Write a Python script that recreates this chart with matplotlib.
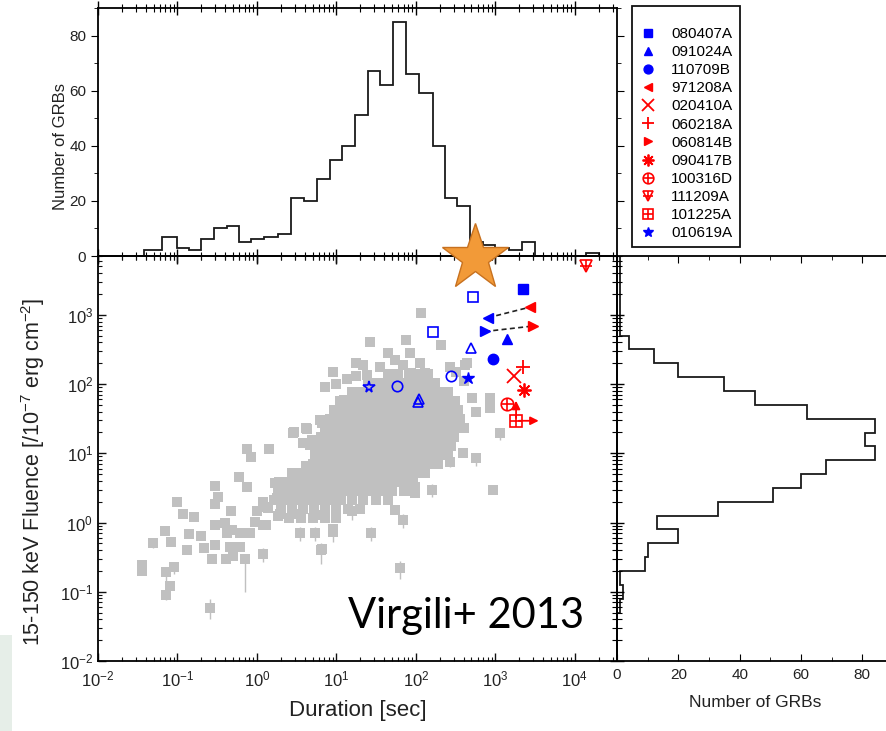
import matplotlib
matplotlib.use("Agg")
import matplotlib.pyplot as plt
from matplotlib.lines import Line2D
from matplotlib.patches import Rectangle
import numpy as np

plt.rcParams['font.family'] = ['Liberation Sans', 'DejaVu Sans']
plt.rcParams['mathtext.default'] = 'regular'
TXT = '#222222'
GRAY = '#c0c0c0'

# ---- duration histogram (top): log10 bin edges and counts
dur_edges = [-1.42, -1.20, -1.01, -0.86, -0.71, -0.54, -0.38, -0.23, -0.07, 0.09,
             0.27, 0.43, 0.59, 0.75, 0.92, 1.07, 1.23, 1.40, 1.55, 1.71,
             1.88, 2.04, 2.21, 2.37, 2.52, 2.68, 2.84, 3.00, 3.17, 3.33,
             3.50, 3.66, 3.82, 3.98, 4.14, 4.30]
dur_counts = [2, 7, 3, 2, 6, 10, 11, 5, 6, 7,
              8, 21, 20, 28, 35, 40, 51, 67, 62, 85,
              66, 59, 40, 21, 18, 5, 4, 3, 2, 5,
              0, 0, 0, 0, 1]

# ---- fluence histogram (right): log10 bin edges and counts
flu_edges = [-1.3, -1.1, -0.9, -0.7, -0.5, -0.3, -0.1, 0.1, 0.3, 0.5, 0.7, 0.9, 1.1,
             1.3, 1.5, 1.7, 1.9, 2.1, 2.3, 2.5, 2.7, 2.9, 3.1, 3.3, 3.5, 3.7, 3.9]
flu_counts = [1, 2, 1, 9, 10, 20, 13, 33, 51, 60, 68, 84, 81,
              84, 62, 45, 35, 20, 12, 4, 1, 1, 1, 1, 1, 1]

# ---- gray sample: scattered points (log10 T, log10 F)
sparse_logT = [-1.45, -1.45, -1.31, -1.16, -1.08, -1.15, -1.04, -1.10, -1.14, -1.00,
               -0.93, -0.79, -0.86, -0.88, -0.70, -0.67, -0.56, -0.59, -0.53, -0.49,
               -0.53, -0.53, -0.53, -0.40, -0.38, -0.33, -0.32, -0.34, -0.39, -0.30,
               -0.21, -0.21, -0.15, -0.22, -0.12, -0.13, -0.08, 0.15, -0.09, -0.03,
               0.00, 0.08, 0.14, 0.11, 0.08, 0.24, 0.25, 0.26, 0.45, 0.63,
               0.58, 0.69, 0.82, 0.92, 0.86, 0.96, 1.00, 0.73, 0.82, 0.96,
               0.08, 1.42, 1.88, 1.65, 1.74, 1.92, 2.05, 1.25, 1.34, 1.55,
               1.84, 1.94, 2.11, 1.13, 1.25, 1.38, 1.09, 1.25, 1.59, 1.78,
               2.09, 2.15, 0.79, 0.46, 0.62, 0.67, 0.86, 0.92, 0.62, 0.77,
               0.88, 1.13, 1.09, 2.06, 2.32, 2.62, 2.64, 2.43, 2.51, 2.60,
               2.76, 2.93, 2.93, 2.70, 2.60, 2.76, 3.06, 2.97, 2.20, 2.59,
               2.43, 1.99, 0.08, 0.23, 0.42, 0.10, 0.54, 0.83, 1.19, 1.44,
               1.80, 1.74, 1.84, 1.99, 0.46, 0.58, 0.46, 0.29, 1.97, 0.81]
sparse_logF = [-0.62, -0.70, -0.30, -0.12, -0.28, -0.72, -0.64, -0.91, -1.04, 0.30,
               0.13, 0.08, -0.16, -0.40, -0.20, -0.37, -0.53, -1.23, 0.53, 0.37,
               0.27, -0.03, -0.32, -0.01, -0.15, 0.16, -0.11, -0.35, -0.52, -0.49,
               -0.15, -0.35, -0.53, 0.66, 0.52, 1.06, 0.94, 1.06, -0.15, 0.01,
               0.16, 0.25, 0.21, -0.03, -0.45, 0.57, 0.35, 0.09, 1.30, 1.35,
               1.15, 1.19, 1.44, 1.48, 1.96, 2.18, 2.00, -0.15, -0.38, -0.10,
               0.30, 2.61, 2.64, 2.45, 2.35, 2.45, 2.30, 2.30, 2.28, 2.25,
               2.28, 2.16, 2.16, 2.07, 2.11, 2.13, 1.77, 1.72, 1.89, 1.87,
               2.06, 1.96, 1.48, 1.31, 1.36, 1.12, 1.10, 0.90, 0.81, 0.74,
               1.48, 1.48, 1.58, 3.03, 2.57, 2.28, 2.30, 2.25, 2.18, 2.04,
               1.60, 1.80, 1.65, 1.80, 1.36, 0.93, 1.29, 0.47, 0.47, 1.00,
               0.88, 0.42, -0.03, 0.57, 0.57, 0.23, -0.15, 0.11, 0.16, -0.15,
               -0.66, 0.18, 0.04, 0.52, 0.42, 0.33, 0.13, 0.13, 0.45, -0.40]

# ---- gray sample: dense core, one list of log10 T per log10 F row
core_logF = [2.15, 2.02, 1.89, 1.76, 1.63, 1.50, 1.37, 1.24, 1.11, 0.98,
             0.85, 0.72, 0.59, 0.46, 0.33, 0.20, 0.07]
core_logT = [
    [1.65, 1.78, 1.91, 2.04, 2.15],
    [1.40, 1.52, 1.64, 1.76, 1.88, 2.00, 2.12, 2.24],
    [1.20, 1.32, 1.44, 1.56, 1.68, 1.80, 1.92, 2.04, 2.16, 2.28, 2.40],
    [1.05, 1.17, 1.29, 1.41, 1.53, 1.65, 1.77, 1.89, 2.01, 2.13, 2.25, 2.37, 2.49],
    [0.97, 1.09, 1.21, 1.33, 1.45, 1.57, 1.69, 1.81, 1.93, 2.05, 2.17, 2.29, 2.41, 2.53],
    [0.92, 1.04, 1.16, 1.28, 1.40, 1.52, 1.64, 1.76, 1.88, 2.00, 2.12, 2.24, 2.36, 2.48, 2.56],
    [0.85, 0.97, 1.09, 1.21, 1.33, 1.45, 1.57, 1.69, 1.81, 1.93, 2.05, 2.17, 2.29, 2.41, 2.53],
    [0.80, 0.92, 1.04, 1.16, 1.28, 1.40, 1.52, 1.64, 1.76, 1.88, 2.00, 2.12, 2.24, 2.36, 2.48],
    [0.76, 0.88, 1.00, 1.12, 1.24, 1.36, 1.48, 1.60, 1.72, 1.84, 1.96, 2.08, 2.20, 2.32, 2.44],
    [0.73, 0.85, 0.97, 1.09, 1.21, 1.33, 1.45, 1.57, 1.69, 1.81, 1.93, 2.05, 2.17, 2.29, 2.40],
    [0.71, 0.83, 0.95, 1.07, 1.19, 1.31, 1.43, 1.55, 1.67, 1.79, 1.91, 2.03, 2.15, 2.28],
    [0.44, 0.56, 0.68, 0.80, 0.92, 1.04, 1.16, 1.28, 1.40, 1.52, 1.64, 1.76, 1.88, 2.00, 2.12],
    [0.28, 0.40, 0.52, 0.64, 0.76, 0.88, 1.00, 1.12, 1.24, 1.36, 1.48, 1.60, 1.72, 1.84, 1.96],
    [0.26, 0.38, 0.50, 0.62, 0.74, 0.86, 0.98, 1.10, 1.22, 1.34, 1.46, 1.58, 1.70, 1.85],
    [0.22, 0.34, 0.46, 0.58, 0.70, 0.82, 0.94, 1.06, 1.20, 1.34, 1.50, 1.65],
    [0.30, 0.44, 0.58, 0.72, 0.86, 1.00, 1.14, 1.30],
    [0.40, 0.55, 0.70, 0.85, 1.00],
]

# ---- gray points with fluence error bars (log10 T, log10 F, lower dex, upper dex)
err_logT = [-1.45, -1.31, -1.15, -1.14, -1.10, -1.04, -0.59, -0.15, 0.08, -0.34,
            0.81, 0.73, 0.96, 1.44, 1.19, 1.80, 2.76, 3.06, 2.20, 2.43, 0.54, 1.84]
err_logF = [-0.66, -0.30, -0.72, -1.04, -0.91, -0.64, -1.23, -0.53, -0.45, -0.35,
            -0.40, -0.15, -0.13, -0.15, 0.16, -0.66, 0.93, 1.29, 0.47, 0.88, -0.15, 0.04]
err_lo = [0.10, 0.07, 0.12, 0.08, 0.07, 0.10, 0.16, 0.47, 0.12, 0.10,
          0.20, 0.12, 0.15, 0.12, 0.12, 0.15, 0.12, 0.10, 0.10, 0.08, 0.12, 0.12]
err_hi = [0.08, 0.06, 0.08, 0.06, 0.06, 0.07, 0.12, 0.05, 0.08, 0.07,
          0.10, 0.08, 0.10, 0.08, 0.08, 0.10, 0.08, 0.08, 0.08, 0.07, 0.08, 0.08]

# ---- special GRBs: name, T [s], F [1e-7 erg/cm2]
grb_names = ['080407A', '091024A', '110709B', '971208A', '020410A', '060218A',
             '060814B', '090417B', '100316D', '111209A', '101225A', '010619A']
grb_T = [2240, 1380, 930, 2700, 1700, 2240, 3000, 2290, 1380, 13800, 1820, 450]
grb_F = [2340, 450, 230, 1290, 129, 174, 690, 81, 51, 5000, 29.5, 123]
# open blue symbols (alternative measurements)
open_kind = ['s', 's', '^', '^', '^', 'o', 'o', '*']
open_T = [525, 166, 500, 110, 105, 275, 57, 25.7]
open_F = [1820, 560, 330, 60, 55, 132, 93, 91]
# blue ends of dashed links (971208A, 060814B)
link_blue_T = [810, 740]
link_blue_F = [910, 575]
link_red_T = [2700, 3000]
link_red_F = [1290, 690]

fig = plt.figure(figsize=(8.86, 7.31), dpi=100)
W, H = 886, 731
ax = fig.add_axes([98 / W, 1 - 661 / H, 519 / W, 405 / H])
axt = fig.add_axes([98 / W, 1 - 256 / H, 519 / W, 248 / H], sharex=ax)
axr = fig.add_axes([617 / W, 1 - 661 / H, 276 / W, 405 / H], sharey=ax)
ax.set_zorder(3)
ax.patch.set_alpha(0)

gms = 6.8
# gray sample
for lf, row in zip(core_logF, core_logT):
    ax.plot(10 ** np.array(row), np.full(len(row), 10 ** lf), 's', color=GRAY,
            ms=gms, mew=0, zorder=2)
ax.plot(10 ** np.array(sparse_logT), 10 ** np.array(sparse_logF), 's', color=GRAY,
        ms=gms, mew=0, zorder=2)
eT = 10 ** np.array(err_logT)
eF = 10 ** np.array(err_logF)
ax.errorbar(eT, eF, yerr=[eF - eF / 10 ** np.array(err_lo), eF * 10 ** np.array(err_hi) - eF],
            fmt='s', color=GRAY, ms=gms, mew=0, elinewidth=1.0, capsize=3.5, zorder=2)

# dashed links
for bt, bf, rt, rf in zip(link_blue_T, link_blue_F, link_red_T, link_red_F):
    ax.plot([bt, rt], [bf, rf], '--', color='#222222', lw=1.2, dashes=(3, 2), zorder=3)

blue, red = '#0000ff', '#ff0000'
ms = 7.5
style = {
    '080407A': [dict(marker='s', color=blue)],
    '091024A': [dict(marker='^', color=blue)],
    '110709B': [dict(marker='o', color=blue)],
    '971208A': [dict(marker='<', color=red)],
    '020410A': [dict(marker='x', color=red, ms=10, mew=1.3)],
    '060218A': [dict(marker='+', color=red, ms=10, mew=1.3)],
    '060814B': [dict(marker='>', color=red)],
    '090417B': [dict(marker=(8, 2, 0), color=red, ms=10, mew=1.3)],
    '100316D': [dict(marker='o', color=red, mfc='none', ms=9, mew=1.2),
                dict(marker='+', color=red, ms=9, mew=1.2)],
    '111209A': [dict(marker='v', color=red, mfc='none', ms=9, mew=1.2),
                dict(marker='+', color=red, ms=8, mew=1.2)],
    '101225A': [dict(marker='s', color=red, mfc='none', ms=8, mew=1.2),
                dict(marker='+', color=red, ms=8, mew=1.2)],
    '010619A': [dict(marker='*', color=blue, ms=9)],
}
handles = []
for name, t, f in zip(grb_names, grb_T, grb_F):
    hs = []
    for st in style[name]:
        kw = dict(ms=ms, linestyle='none')
        kw.update(st)
        ax.plot([t], [f], zorder=5, **kw)
        lk = dict(kw)
        lk['ms'] = kw['ms'] * 0.85
        hs.append(Line2D([], [], **lk))
    handles.append(tuple(hs) if len(hs) > 1 else hs[0])

# blue ends of links
ax.plot(link_blue_T[0], link_blue_F[0], '<', color=blue, ms=ms, zorder=5)
ax.plot(link_blue_T[1], link_blue_F[1], '>', color=blue, ms=ms, zorder=5)
for k, t, f in zip(open_kind, open_T, open_F):
    ax.plot(t, f, k, mfc='none', mec=blue, mew=1.2, ms=7.5 if k != '*' else 8.5, zorder=5)

# lower-limit arrows for 101225A
ax.annotate('', xy=(1820, 63), xytext=(1820, 29.5),
            arrowprops=dict(arrowstyle='-|>', color=red, lw=1.3, mutation_scale=12), zorder=6)
ax.annotate('', xy=(3800, 29.5), xytext=(1820, 29.5),
            arrowprops=dict(arrowstyle='-|>', color=red, lw=1.3, mutation_scale=12), zorder=6)

# orange star
ax.plot(560, 6600, marker='*', ms=50, color='#f29a38', mec='#c7711f', mew=1.0,
        clip_on=False, zorder=10)

ax.text(430, 0.030, 'Virgili+ 2013', fontsize=30, family='Lato', color='black',
        ha='center', va='baseline', zorder=8)

# main axes
ax.set_xscale('log')
ax.set_yscale('log')
ax.set_xlim(1e-2, 10 ** 4.53)
ax.set_ylim(1e-2, 10 ** 3.85)
ax.set_xticks([1e-2, 1e-1, 1, 10, 100, 1e3, 1e4])
ax.set_xticklabels(['10$^{-2}$', '10$^{-1}$', '10$^{0}$', '10$^{1}$', '10$^{2}$',
                    '10$^{3}$', '10$^{4}$'])
ax.set_yticks([1e-2, 1e-1, 1, 10, 100, 1e3])
ax.set_yticklabels(['10$^{-2}$', '10$^{-1}$', '10$^{0}$', '10$^{1}$', '10$^{2}$', '10$^{3}$'])
ax.tick_params(which='both', direction='in', top=True, right=True, labelsize=12,
               colors='#111111', labelcolor=TXT)
ax.tick_params(which='major', length=6, width=1)
ax.tick_params(which='minor', length=3, width=0.8)
ax.tick_params(axis='y', which='both', right=False)
ax.tick_params(axis='x', pad=6)
ax.set_xlabel('Duration [sec]', fontsize=16, color=TXT)
ax.xaxis.set_label_coords(0.5, -0.096)
ax.set_ylabel('15-150 keV Fluence [/10$^{-7}$ erg cm$^{-2}$]', fontsize=15.5, color=TXT)
ax.yaxis.set_label_coords(-0.098, 0.467)
for s in ax.spines.values():
    s.set_linewidth(1.3)

# top histogram
axt.stairs(dur_counts, 10 ** np.array(dur_edges), color='#1a1a1a', lw=1.3)
axt.set_ylim(0, 90)
axt.set_yticks([0, 20, 40, 60, 80])
axt.set_yticks([10, 30, 50, 70, 90], minor=True)
axt.tick_params(axis='x', which='both', direction='inout', labelbottom=False, top=True)
axt.tick_params(axis='x', which='major', length=10, width=1)
axt.tick_params(axis='x', which='minor', length=6, width=0.8)
axt.tick_params(axis='y', which='both', direction='out', right=True, labelsize=11,
                labelcolor=TXT)
axt.tick_params(axis='y', which='major', length=5)
axt.tick_params(axis='y', which='minor', length=3)
axt.set_ylabel('Number of GRBs', fontsize=12, color=TXT)
axt.yaxis.set_label_coords(-0.058, 0.44)
for s in axt.spines.values():
    s.set_linewidth(1.3)

# right histogram
axr.stairs(flu_counts, 10 ** np.array(flu_edges), orientation='horizontal',
           color='#1a1a1a', lw=1.3)
axr.set_xlim(0, 90)
axr.set_xticks([0, 20, 40, 60, 80])
axr.set_xticks([10, 30, 50, 70, 90], minor=True)
axr.tick_params(axis='y', which='both', direction='inout', labelleft=False)
axr.tick_params(axis='y', which='major', length=10, width=1)
axr.tick_params(axis='y', which='minor', length=7, width=0.8)
axr.tick_params(axis='x', which='both', direction='in', top=True, labelsize=11,
                labelcolor=TXT, pad=5)
axr.tick_params(axis='x', which='major', length=5)
axr.tick_params(axis='x', which='minor', length=3)
axr.set_xlabel('Number of GRBs', fontsize=12.5, color=TXT)
axr.xaxis.set_label_coords(0.5, -0.084)
for s in axr.spines.values():
    s.set_linewidth(1.3)

fig.legend(handles, grb_names, loc='upper left', bbox_to_anchor=(632 / W, 1 - 6 / H),
           borderaxespad=0, frameon=True, fancybox=False, edgecolor='#111111',
           framealpha=1, fontsize=11, handlelength=1.2, handletextpad=0.9,
           labelspacing=0.27, borderpad=0.45, title=' ',
           title_fontsize=7).get_frame().set_linewidth(1.3)

fig.add_artist(Rectangle((0, 0), 12 / W, 96 / H, transform=fig.transFigure,
                         color='#e6eee8', lw=0))

fig.savefig('out.png', dpi=100)
